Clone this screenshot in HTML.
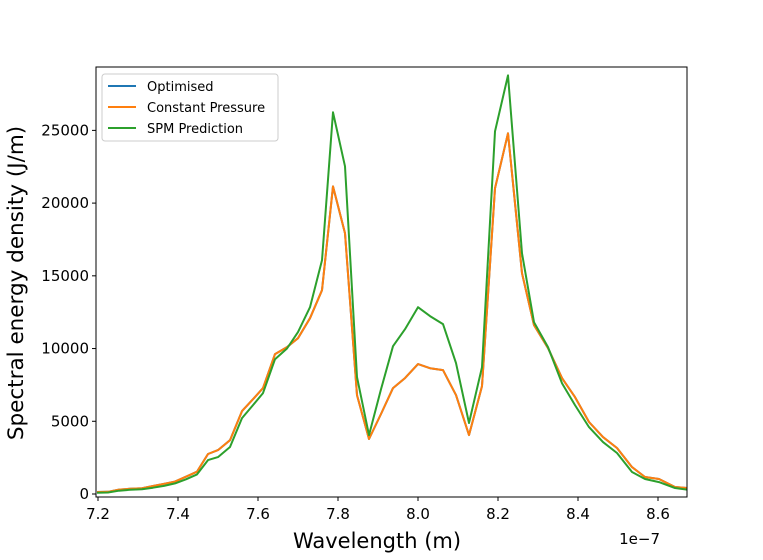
<!DOCTYPE html>
<html><head><meta charset="utf-8"><style>
body{margin:0;background:#fff;}
svg{display:block;font-family:"DejaVu Sans","Liberation Sans",sans-serif;}
</style></head><body>
<svg id="chart" width="763" height="560" xmlns="http://www.w3.org/2000/svg">
<rect width="763" height="560" fill="#fff"/>
<g id="plot"></g>
<g id="axes"></g>
<g>
<rect x="102" y="74" width="176" height="67" rx="3" fill="#fff" fill-opacity="0.8" stroke="#ccc"/>
<line x1="108" y1="86" x2="136" y2="86" stroke="#1f77b4" stroke-width="2"/>
<text x="147" y="91" font-size="13">Optimised</text>
<line x1="108" y1="107" x2="136" y2="107" stroke="#ff7f0e" stroke-width="2"/>
<text x="147" y="112" font-size="13">Constant Pressure</text>
<line x1="108" y1="128" x2="136" y2="128" stroke="#2ca02c" stroke-width="2"/>
<text x="147" y="133" font-size="13">SPM Prediction</text>
</g>
<text x="377" y="548" font-size="21" text-anchor="middle">Wavelength (m)</text>
<text x="660" y="544" font-size="15" text-anchor="end">1e−7</text>
<text transform="translate(23,283) rotate(-90)" font-size="21.5" text-anchor="middle">Spectral energy density (J/m)</text>
</svg>
<script>
const wavelengths=[7.1975,7.225,7.2525,7.28,7.31,7.3375,7.365,7.3925,7.42,7.4475,7.475,7.5,7.53,7.56,7.5875,7.6125,7.6425,7.6725,7.7,7.73,7.76,7.7875,7.8175,7.8475,7.8775,7.9075,7.9375,7.9675,8.0,8.03,8.0625,8.095,8.1275,8.16,8.1925,8.225,8.26,8.29,8.325,8.36,8.3925,8.4275,8.4625,8.4975,8.535,8.5675,8.6025,8.6425,8.6725];
const optimised=[140,150,300,360,400,550,700,850,1190,1530,2750,3020,3700,5700,6520,7280,9620,10100,10710,12090,14010,21150,17930,6800,3780,5500,7280,7970,8930,8650,8520,6800,4050,7420,21020,24800,15180,11610,10030,7970,6660,4950,3910,3160,1850,1170,1030,480,410];
const constantPressure=[140,150,300,360,400,550,700,850,1190,1530,2750,3020,3700,5700,6520,7280,9620,10100,10710,12090,14010,21150,17930,6800,3780,5500,7280,7970,8930,8650,8520,6800,4050,7420,21020,24800,15180,11610,10030,7970,6660,4950,3910,3160,1850,1170,1030,480,410];
const spmPrediction=[90,100,230,290,330,430,560,730,1010,1350,2330,2540,3230,5220,6110,6940,9270,10000,11130,12840,16070,26240,22530,8040,4050,7200,10160,11330,12840,12230,11680,9000,4880,8720,24930,28780,16550,11810,10100,7620,6110,4600,3570,2820,1510,1030,820,410,300];
const xTicks=[7.2,7.4,7.6,7.8,8.0,8.2,8.4,8.6];
const xTickLabels=["7.2","7.4","7.6","7.8","8.0","8.2","8.4","8.6"];
const yTicks=[0,5000,10000,15000,20000,25000];
const yTickLabels=["0","5000","10000","15000","20000","25000"];

const NS="http://www.w3.org/2000/svg";
const L=96,R=687,T=67,B=497;
function xs(v){return 98+(v-7.2)*400;}
function ys(v){return 494-v*0.014545;}
function mk(tag,attrs,parent){const e=document.createElementNS(NS,tag);for(const k in attrs)e.setAttribute(k,attrs[k]);parent.appendChild(e);return e;}
const plot=document.getElementById('plot');
const axes=document.getElementById('axes');
const cp=mk('clipPath',{id:'clip'},plot);
mk('rect',{x:L,y:T,width:R-L,height:B-T},cp);
function line(vals,color,name){
  const d=vals.map((v,i)=>(i?'L':'M')+xs(wavelengths[i]).toFixed(1)+','+ys(v).toFixed(1)).join(' ');
  const p=mk('path',{d:d,fill:'none',stroke:color,'stroke-width':2,'stroke-linejoin':'round','clip-path':'url(#clip)'},plot);
  
  
}
line(optimised,'#1f77b4','series-optimised');
line(constantPressure,'#ff7f0e','series-constant-pressure');
line(spmPrediction,'#2ca02c','series-spm-prediction');
const frame=mk('rect',{x:L,y:T,width:R-L,height:B-T,fill:'none',stroke:'#000','stroke-width':1},axes);


xTicks.forEach((t,i)=>{
  const x=xs(t);
  const tk=mk('line',{x1:x,y1:B,x2:x,y2:B+4,stroke:'#000'},axes);
  
  
  const tx=mk('text',{x:x,y:B+22,'font-size':15,'text-anchor':'middle'},axes);
  tx.textContent=xTickLabels[i];
  
  
});
yTicks.forEach((t,i)=>{
  const y=ys(t);
  const tk=mk('line',{x1:L-4,y1:y,x2:L,y2:y,stroke:'#000'},axes);
  
  
  const tx=mk('text',{x:L-7,y:y+5,'font-size':15,'text-anchor':'end'},axes);
  tx.textContent=yTickLabels[i];
  
  
});
</script>
</body></html>
